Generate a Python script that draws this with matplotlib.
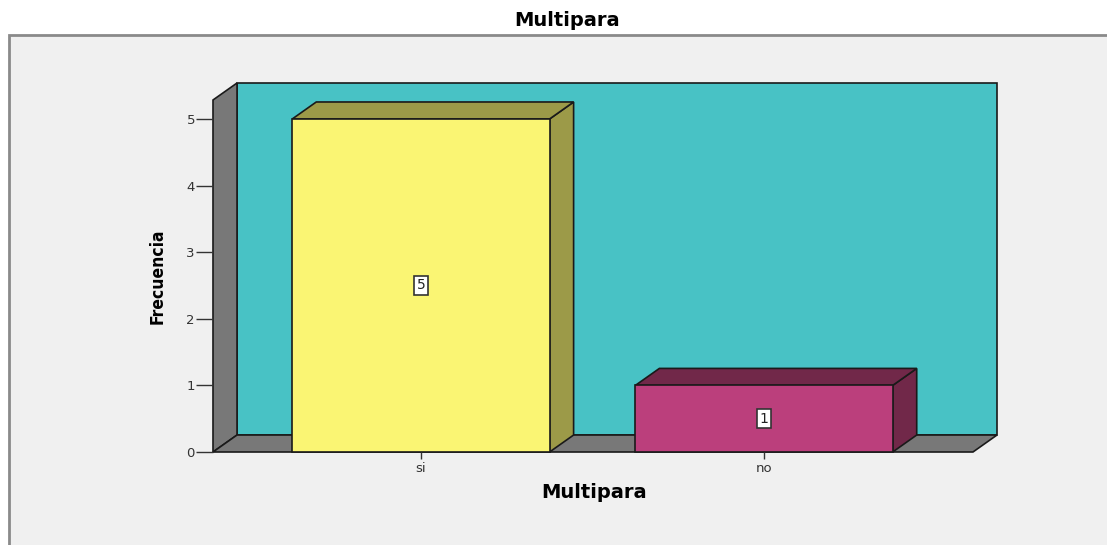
import matplotlib.pyplot as plt
from matplotlib.patches import Polygon, Rectangle

categories = ['si', 'no']
counts = [5, 1]
front_colors = ['#faf573', '#bb3f7c']
shade_colors = ['#9c9a48', '#712849']

bar_w = 0.75
dx, dy = 0.07, 0.255   # depth offset in data units
x0, x1 = -0.606, 1.609  # front floor extent
ytop = 5.285

fig = plt.figure(figsize=(11.07, 5.45), dpi=100)
fig.patch.set_facecolor('white')

# outer grey panel
bg = fig.add_axes([0, 0, 1, 1], zorder=-5)
bg.set_xlim(0, 1107)
bg.set_ylim(545, 0)
bg.axis('off')
bg.add_patch(Rectangle((9, 35), 1200, 600, facecolor='#f0f0f0', edgecolor='#8a8a8a', linewidth=2))

ax = fig.add_axes([213 / 1107, (545 - 452) / 545, (997 - 213) / 1107, (452 - 83) / 545])
ax.set_xlim(x0, x1 + dx)
ax.set_ylim(0, ytop + dy)
ax.patch.set_visible(False)
for s in ax.spines.values():
    s.set_visible(False)

ec = '#1a1a1a'
lw = 1.2
# back wall
ax.add_patch(Polygon([(x0 + dx, dy), (x1 + dx, dy), (x1 + dx, ytop + dy), (x0 + dx, ytop + dy)],
                     closed=True, facecolor='#48c2c5', edgecolor=ec, lw=lw, clip_on=False))
# left wall
ax.add_patch(Polygon([(x0, 0), (x0 + dx, dy), (x0 + dx, ytop + dy), (x0, ytop)],
                     closed=True, facecolor='#787878', edgecolor=ec, lw=lw, clip_on=False))
# floor
ax.add_patch(Polygon([(x0, 0), (x1, 0), (x1 + dx, dy), (x0 + dx, dy)],
                     closed=True, facecolor='#787878', edgecolor=ec, lw=lw, clip_on=False))

for i, (v, fc, sc) in enumerate(zip(counts, front_colors, shade_colors)):
    l, r = i - bar_w / 2, i + bar_w / 2
    ax.add_patch(Polygon([(r, 0), (r + dx, dy), (r + dx, v + dy), (r, v)],
                         closed=True, facecolor=sc, edgecolor=ec, lw=lw, clip_on=False))
    ax.add_patch(Polygon([(l, v), (r, v), (r + dx, v + dy), (l + dx, v + dy)],
                         closed=True, facecolor=sc, edgecolor=ec, lw=lw, clip_on=False))
    ax.add_patch(Rectangle((l, 0), bar_w, v, facecolor=fc, edgecolor=ec, lw=lw, clip_on=False))
    ax.text(i, v / 2, str(v), ha='center', va='center', fontsize=10, color='#222222',
            bbox=dict(boxstyle='square,pad=0.2', facecolor='white', edgecolor='#333333', lw=1.2))

ax.set_xticks(range(len(categories)))
ax.set_xticklabels(categories)
ax.set_yticks(range(6))
ax.tick_params(axis='y', length=12, width=1, color='#333333', labelsize=9.5, labelcolor='#333333', pad=1)
ax.tick_params(axis='x', length=5, width=1, color='#333333', labelsize=9.5, labelcolor='#333333', pad=2)

ax.set_xlabel('Multipara', fontsize=14, fontweight='bold')
ax.xaxis.set_label_coords((594 - 213) / 784, -(493 - 452) / 369)
ax.xaxis.label.set_va('center')
ax.set_ylabel('Frecuencia', fontsize=12.5, fontweight='bold', family='DejaVu Sans', fontstretch='condensed')
ax.yaxis.set_label_coords(-(213 - 158) / 784, (452 - 276) / 369)
ax.yaxis.label.set_va('center')
fig.text(567 / 1107, 1 - 21 / 545, 'Multipara', ha='center', va='center', fontsize=14, fontweight='bold')

fig.savefig('out.png', dpi=100, facecolor=fig.get_facecolor())
